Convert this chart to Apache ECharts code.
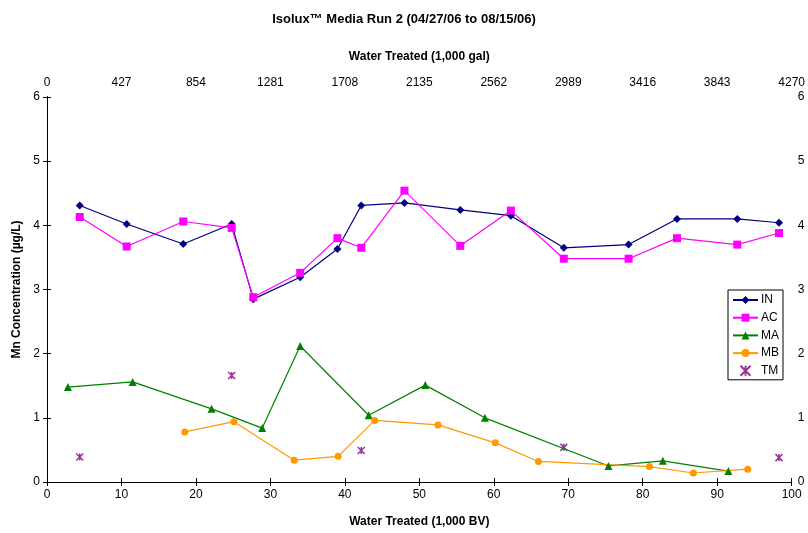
<!DOCTYPE html>
<html lang="en">
<head>
    <meta charset="UTF-8">
    <title>Isolux Media Run 2</title>
    <script src="https://cdn.jsdelivr.net/npm/echarts@6/dist/echarts.min.js"></script>
    <style>
        html, body, #main {
            padding: 0;
            margin: 0;
            width: 808px;
            height: 533px;
            background: #fff;
        }
    </style>
</head>
<body>
    <div id="main"></div>
    <script type="text/javascript">
        // data: [bed volumes (1,000 BV), Mn (µg/L)]
        var inData = [[4.4, 4.31], [10.7, 4.02], [18.3, 3.71], [24.8, 4.02], [27.7, 2.85], [34.0, 3.19],
            [39.0, 3.63], [42.2, 4.31], [48.0, 4.35], [55.5, 4.24], [62.3, 4.15], [69.4, 3.65],
            [78.1, 3.70], [84.6, 4.10], [92.7, 4.10], [98.3, 4.04]];
        var acData = [[4.4, 4.13], [10.7, 3.67], [18.3, 4.06], [24.8, 3.96], [27.7, 2.88], [34.0, 3.26],
            [39.0, 3.80], [42.2, 3.65], [48.0, 4.54], [55.5, 3.68], [62.3, 4.23], [69.4, 3.48],
            [78.1, 3.48], [84.6, 3.80], [92.7, 3.70], [98.3, 3.88]];
        var maData = [[2.8, 1.48], [11.5, 1.56], [22.1, 1.14], [28.9, 0.84], [34.0, 2.12], [43.2, 1.04],
            [50.8, 1.51], [58.8, 1.00], [75.4, 0.25], [82.7, 0.33], [91.5, 0.17]];
        var mbData = [[18.5, 0.78], [25.1, 0.94], [33.2, 0.34], [39.1, 0.40], [44.0, 0.96], [52.5, 0.89],
            [60.2, 0.61], [66.0, 0.32], [80.9, 0.24], [86.8, 0.14], [94.1, 0.20]];
        var tmData = [[4.4, 0.39], [24.8, 1.66], [42.2, 0.49], [69.4, 0.54], [98.3, 0.38]];

        var galMax = 4270, galStep = 427;

        var font = 'Liberation Sans, Arial, sans-serif';
        var asterisk = 'path://M0,0L10,10M10,0L0,10M5,0L5,10';
        var black = '#000';

        var chart = echarts.init(document.getElementById('main'));

        function lineSeries(name, data, color, symbol, size) {
            return {
                name: name,
                type: 'line',
                xAxisIndex: 0,
                yAxisIndex: 0,
                data: data,
                symbol: symbol,
                symbolSize: size,
                showSymbol: true,
                lineStyle: { color: color, width: 1.2 },
                itemStyle: { color: color },
                emphasis: { disabled: true }
            };
        }

        // extra axis with no labels, used to get ticks on the inner side too (Excel "cross" ticks)
        function innerTicks(pos, max, step) {
            return {
                type: 'value', position: pos, min: 0, max: max, interval: step,
                axisLine: { show: true, lineStyle: { color: black } },
                axisTick: { show: true, inside: true, length: 4, lineStyle: { color: black } },
                axisLabel: { show: false },
                splitLine: { show: false }
            };
        }

        var option = {
            animation: false,
            backgroundColor: '#fff',
            textStyle: { fontFamily: font, color: black },
            title: {
                text: 'Isolux™ Media Run 2 (04/27/06 to 08/15/06)',
                left: 'center',
                top: 8,
                textStyle: { fontSize: 13, fontWeight: 'bold', color: black, fontFamily: font }
            },
            legend: {
                orient: 'vertical',
                left: 728,
                top: 290,
                padding: [4, 4, 3, 4],
                itemGap: 5.7,
                itemWidth: 25,
                itemHeight: 10,
                borderColor: black,
                borderWidth: 1,
                textStyle: { fontSize: 12, color: black, fontFamily: font, padding: [0, 0, 0, -2] },
                data: ['IN', 'AC', 'MA', 'MB', 'TM']
            },
            grid: {
                left: 47,
                right: 16,
                top: 97,
                bottom: 49
            },
            xAxis: [{
                type: 'value',
                position: 'bottom',
                min: 0,
                max: 100,
                interval: 10,
                name: 'Water Treated (1,000 BV)',
                nameLocation: 'middle',
                nameGap: 34,
                nameTextStyle: { fontSize: 12, fontWeight: 'bold', color: black },
                axisLine: { lineStyle: { color: black, width: 1 } },
                axisTick: { length: 4, lineStyle: { color: black } },
                axisLabel: { fontSize: 12, color: black, margin: 7 },
                splitLine: { show: false }
            }, {
                type: 'value',
                position: 'top',
                min: 0,
                max: galMax,
                interval: galStep,
                name: 'Water Treated (1,000 gal)',
                nameLocation: 'middle',
                nameGap: 34,
                nameTextStyle: { fontSize: 12, fontWeight: 'bold', color: black },
                axisLine: { lineStyle: { color: black, width: 1 } },
                axisTick: { length: 4, lineStyle: { color: black } },
                axisLabel: { fontSize: 12, color: black, margin: 8, formatter: function (v) { return String(v); } },
                splitLine: { show: false }
            }, innerTicks('top', galMax, galStep)],
            yAxis: [{
                type: 'value',
                position: 'left',
                min: 0,
                max: 6,
                interval: 1,
                name: 'Mn Concentration (µg/L)',
                nameLocation: 'middle',
                nameGap: 22,
                nameTextStyle: { fontSize: 12, fontWeight: 'bold', color: black },
                axisLine: { show: true, lineStyle: { color: black, width: 1 } },
                axisTick: { show: true, length: 4, lineStyle: { color: black } },
                axisLabel: { fontSize: 12, color: black, margin: 7 },
                splitLine: { show: false }
            }, {
                type: 'value',
                position: 'right',
                min: 0,
                max: 6,
                interval: 1,
                axisLine: { show: true, lineStyle: { color: black, width: 1 } },
                axisTick: { show: true, length: 4, lineStyle: { color: black } },
                axisLabel: { fontSize: 12, color: black, margin: 6 },
                splitLine: { show: false }
            }, innerTicks('right', 6, 1)],
            series: [
                lineSeries('IN', inData, '#000080', 'diamond', 8),
                lineSeries('AC', acData, '#FF00FF', 'rect', 8),
                lineSeries('MA', maData, '#008000', 'triangle', 8),
                lineSeries('MB', mbData, '#FF9900', 'circle', 7),
                {
                    name: 'TM',
                    type: 'scatter',
                    xAxisIndex: 0,
                    yAxisIndex: 0,
                    data: tmData,
                    symbol: asterisk,
                    symbolSize: 7,
                    itemStyle: { color: 'transparent', borderColor: '#800080', borderWidth: 1.5 },
                    emphasis: { disabled: true }
                }
            ]
        };

        chart.setOption(option);
    </script>
</body>
</html>
